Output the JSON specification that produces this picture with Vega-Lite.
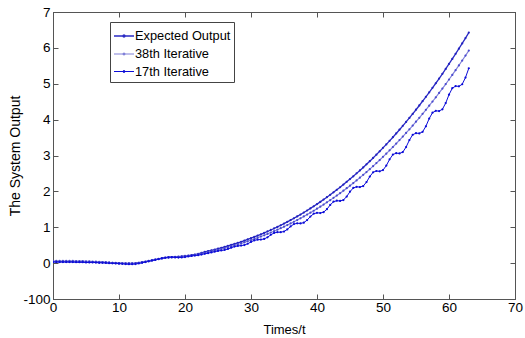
{
  "$schema": "https://vega.github.io/schema/vega-lite/v6.json",
  "width": 462,
  "height": 287,
  "autosize": "none",
  "padding": {"left": 53, "top": 12, "right": 10, "bottom": 39},
  "background": "#ffffff",
  "config": {
    "font": "Liberation Sans",
    "view": {"stroke": "#555555", "strokeWidth": 1}
  },
  "data": {
    "values": [
      {"t":0,"Expected Output":0.04,"38th Iterative":0.06,"17th Iterative":0.03},
      {"t":0.5,"Expected Output":0.04,"38th Iterative":0.06,"17th Iterative":0.03},
      {"t":1,"Expected Output":0.04,"38th Iterative":0.06,"17th Iterative":0.03},
      {"t":1.5,"Expected Output":0.04,"38th Iterative":0.06,"17th Iterative":0.03},
      {"t":2,"Expected Output":0.04,"38th Iterative":0.06,"17th Iterative":0.03},
      {"t":2.5,"Expected Output":0.04,"38th Iterative":0.06,"17th Iterative":0.03},
      {"t":3,"Expected Output":0.04,"38th Iterative":0.06,"17th Iterative":0.03},
      {"t":3.5,"Expected Output":0.035,"38th Iterative":0.055,"17th Iterative":0.025},
      {"t":4,"Expected Output":0.035,"38th Iterative":0.055,"17th Iterative":0.025},
      {"t":4.5,"Expected Output":0.035,"38th Iterative":0.055,"17th Iterative":0.025},
      {"t":5,"Expected Output":0.03,"38th Iterative":0.05,"17th Iterative":0.02},
      {"t":5.5,"Expected Output":0.03,"38th Iterative":0.05,"17th Iterative":0.02},
      {"t":6,"Expected Output":0.03,"38th Iterative":0.045,"17th Iterative":0.02},
      {"t":6.5,"Expected Output":0.025,"38th Iterative":0.04,"17th Iterative":0.015},
      {"t":7,"Expected Output":0.02,"38th Iterative":0.035,"17th Iterative":0.01},
      {"t":7.5,"Expected Output":0.02,"38th Iterative":0.03,"17th Iterative":0.01},
      {"t":8,"Expected Output":0.015,"38th Iterative":0.025,"17th Iterative":0.005},
      {"t":8.5,"Expected Output":0.01,"38th Iterative":0.02,"17th Iterative":0},
      {"t":9,"Expected Output":0.005,"38th Iterative":0.01,"17th Iterative":-0.005},
      {"t":9.5,"Expected Output":0,"38th Iterative":0.005,"17th Iterative":-0.01},
      {"t":10,"Expected Output":0,"38th Iterative":0,"17th Iterative":-0.015},
      {"t":10.5,"Expected Output":-0.005,"38th Iterative":-0.005,"17th Iterative":-0.02},
      {"t":11,"Expected Output":-0.01,"38th Iterative":-0.01,"17th Iterative":-0.025},
      {"t":11.5,"Expected Output":-0.01,"38th Iterative":-0.01,"17th Iterative":-0.03},
      {"t":12,"Expected Output":-0.005,"38th Iterative":-0.01,"17th Iterative":-0.03},
      {"t":12.5,"Expected Output":0,"38th Iterative":-0.005,"17th Iterative":-0.025},
      {"t":13,"Expected Output":0.01,"38th Iterative":0.005,"17th Iterative":-0.01},
      {"t":13.5,"Expected Output":0.025,"38th Iterative":0.02,"17th Iterative":0.01},
      {"t":14,"Expected Output":0.04,"38th Iterative":0.035,"17th Iterative":0.03},
      {"t":14.5,"Expected Output":0.06,"38th Iterative":0.055,"17th Iterative":0.05},
      {"t":15,"Expected Output":0.08,"38th Iterative":0.075,"17th Iterative":0.07},
      {"t":15.5,"Expected Output":0.1,"38th Iterative":0.095,"17th Iterative":0.09},
      {"t":16,"Expected Output":0.12,"38th Iterative":0.115,"17th Iterative":0.11},
      {"t":16.5,"Expected Output":0.14,"38th Iterative":0.13,"17th Iterative":0.13},
      {"t":17,"Expected Output":0.155,"38th Iterative":0.145,"17th Iterative":0.15},
      {"t":17.5,"Expected Output":0.165,"38th Iterative":0.155,"17th Iterative":0.16},
      {"t":18,"Expected Output":0.17,"38th Iterative":0.16,"17th Iterative":0.165},
      {"t":18.5,"Expected Output":0.175,"38th Iterative":0.165,"17th Iterative":0.16},
      {"t":19,"Expected Output":0.18,"38th Iterative":0.17,"17th Iterative":0.155},
      {"t":19.5,"Expected Output":0.19,"38th Iterative":0.18,"17th Iterative":0.16},
      {"t":20,"Expected Output":0.2,"38th Iterative":0.19,"17th Iterative":0.17},
      {"t":20.5,"Expected Output":0.21,"38th Iterative":0.2,"17th Iterative":0.185},
      {"t":21,"Expected Output":0.225,"38th Iterative":0.21,"17th Iterative":0.2},
      {"t":21.5,"Expected Output":0.24,"38th Iterative":0.225,"17th Iterative":0.21},
      {"t":22,"Expected Output":0.26,"38th Iterative":0.24,"17th Iterative":0.22},
      {"t":22.5,"Expected Output":0.285,"38th Iterative":0.265,"17th Iterative":0.24},
      {"t":23,"Expected Output":0.313,"38th Iterative":0.288,"17th Iterative":0.261},
      {"t":23.5,"Expected Output":0.333,"38th Iterative":0.307,"17th Iterative":0.278},
      {"t":24,"Expected Output":0.355,"38th Iterative":0.328,"17th Iterative":0.298},
      {"t":24.5,"Expected Output":0.378,"38th Iterative":0.348,"17th Iterative":0.32},
      {"t":25,"Expected Output":0.402,"38th Iterative":0.37,"17th Iterative":0.339},
      {"t":25.5,"Expected Output":0.426,"38th Iterative":0.393,"17th Iterative":0.352},
      {"t":26,"Expected Output":0.452,"38th Iterative":0.416,"17th Iterative":0.367},
      {"t":26.5,"Expected Output":0.478,"38th Iterative":0.441,"17th Iterative":0.394},
      {"t":27,"Expected Output":0.506,"38th Iterative":0.466,"17th Iterative":0.429},
      {"t":27.5,"Expected Output":0.535,"38th Iterative":0.493,"17th Iterative":0.461},
      {"t":28,"Expected Output":0.564,"38th Iterative":0.52,"17th Iterative":0.479},
      {"t":28.5,"Expected Output":0.595,"38th Iterative":0.549,"17th Iterative":0.488},
      {"t":29,"Expected Output":0.627,"38th Iterative":0.578,"17th Iterative":0.504},
      {"t":29.5,"Expected Output":0.66,"38th Iterative":0.608,"17th Iterative":0.54},
      {"t":30,"Expected Output":0.694,"38th Iterative":0.64,"17th Iterative":0.591},
      {"t":30.5,"Expected Output":0.729,"38th Iterative":0.672,"17th Iterative":0.634},
      {"t":31,"Expected Output":0.766,"38th Iterative":0.706,"17th Iterative":0.653},
      {"t":31.5,"Expected Output":0.803,"38th Iterative":0.741,"17th Iterative":0.657},
      {"t":32,"Expected Output":0.842,"38th Iterative":0.776,"17th Iterative":0.674},
      {"t":32.5,"Expected Output":0.882,"38th Iterative":0.813,"17th Iterative":0.721},
      {"t":33,"Expected Output":0.924,"38th Iterative":0.852,"17th Iterative":0.788},
      {"t":33.5,"Expected Output":0.966,"38th Iterative":0.891,"17th Iterative":0.841},
      {"t":34,"Expected Output":1.01,"38th Iterative":0.931,"17th Iterative":0.862},
      {"t":34.5,"Expected Output":1.055,"38th Iterative":0.973,"17th Iterative":0.862},
      {"t":35,"Expected Output":1.102,"38th Iterative":1.016,"17th Iterative":0.881},
      {"t":35.5,"Expected Output":1.15,"38th Iterative":1.06,"17th Iterative":0.94},
      {"t":36,"Expected Output":1.199,"38th Iterative":1.106,"17th Iterative":1.023},
      {"t":36.5,"Expected Output":1.25,"38th Iterative":1.152,"17th Iterative":1.088},
      {"t":37,"Expected Output":1.302,"38th Iterative":1.2,"17th Iterative":1.11},
      {"t":37.5,"Expected Output":1.355,"38th Iterative":1.25,"17th Iterative":1.108},
      {"t":38,"Expected Output":1.41,"38th Iterative":1.3,"17th Iterative":1.128},
      {"t":38.5,"Expected Output":1.467,"38th Iterative":1.352,"17th Iterative":1.199},
      {"t":39,"Expected Output":1.525,"38th Iterative":1.406,"17th Iterative":1.299},
      {"t":39.5,"Expected Output":1.584,"38th Iterative":1.46,"17th Iterative":1.377},
      {"t":40,"Expected Output":1.645,"38th Iterative":1.517,"17th Iterative":1.401},
      {"t":40.5,"Expected Output":1.707,"38th Iterative":1.574,"17th Iterative":1.397},
      {"t":41,"Expected Output":1.771,"38th Iterative":1.633,"17th Iterative":1.42},
      {"t":41.5,"Expected Output":1.837,"38th Iterative":1.694,"17th Iterative":1.503},
      {"t":42,"Expected Output":1.904,"38th Iterative":1.756,"17th Iterative":1.621},
      {"t":42.5,"Expected Output":1.973,"38th Iterative":1.819,"17th Iterative":1.712},
      {"t":43,"Expected Output":2.043,"38th Iterative":1.884,"17th Iterative":1.739},
      {"t":43.5,"Expected Output":2.115,"38th Iterative":1.95,"17th Iterative":1.733},
      {"t":44,"Expected Output":2.189,"38th Iterative":2.018,"17th Iterative":1.759},
      {"t":44.5,"Expected Output":2.265,"38th Iterative":2.088,"17th Iterative":1.856},
      {"t":45,"Expected Output":2.342,"38th Iterative":2.159,"17th Iterative":1.992},
      {"t":45.5,"Expected Output":2.421,"38th Iterative":2.232,"17th Iterative":2.096},
      {"t":46,"Expected Output":2.502,"38th Iterative":2.306,"17th Iterative":2.127},
      {"t":46.5,"Expected Output":2.584,"38th Iterative":2.382,"17th Iterative":2.119},
      {"t":47,"Expected Output":2.668,"38th Iterative":2.46,"17th Iterative":2.149},
      {"t":47.5,"Expected Output":2.754,"38th Iterative":2.539,"17th Iterative":2.259},
      {"t":48,"Expected Output":2.842,"38th Iterative":2.62,"17th Iterative":2.414},
      {"t":48.5,"Expected Output":2.932,"38th Iterative":2.703,"17th Iterative":2.532},
      {"t":49,"Expected Output":3.024,"38th Iterative":2.788,"17th Iterative":2.568},
      {"t":49.5,"Expected Output":3.117,"38th Iterative":2.874,"17th Iterative":2.559},
      {"t":50,"Expected Output":3.213,"38th Iterative":2.962,"17th Iterative":2.593},
      {"t":50.5,"Expected Output":3.31,"38th Iterative":3.052,"17th Iterative":2.718},
      {"t":51,"Expected Output":3.409,"38th Iterative":3.143,"17th Iterative":2.893},
      {"t":51.5,"Expected Output":3.51,"38th Iterative":3.237,"17th Iterative":3.025},
      {"t":52,"Expected Output":3.614,"38th Iterative":3.332,"17th Iterative":3.065},
      {"t":52.5,"Expected Output":3.719,"38th Iterative":3.429,"17th Iterative":3.057},
      {"t":53,"Expected Output":3.826,"38th Iterative":3.528,"17th Iterative":3.096},
      {"t":53.5,"Expected Output":3.936,"38th Iterative":3.629,"17th Iterative":3.236},
      {"t":54,"Expected Output":4.047,"38th Iterative":3.731,"17th Iterative":3.43},
      {"t":54.5,"Expected Output":4.16,"38th Iterative":3.836,"17th Iterative":3.578},
      {"t":55,"Expected Output":4.276,"38th Iterative":3.942,"17th Iterative":3.623},
      {"t":55.5,"Expected Output":4.394,"38th Iterative":4.051,"17th Iterative":3.615},
      {"t":56,"Expected Output":4.513,"38th Iterative":4.161,"17th Iterative":3.66},
      {"t":56.5,"Expected Output":4.635,"38th Iterative":4.274,"17th Iterative":3.815},
      {"t":57,"Expected Output":4.76,"38th Iterative":4.388,"17th Iterative":4.03},
      {"t":57.5,"Expected Output":4.886,"38th Iterative":4.505,"17th Iterative":4.193},
      {"t":58,"Expected Output":5.014,"38th Iterative":4.623,"17th Iterative":4.245},
      {"t":58.5,"Expected Output":5.145,"38th Iterative":4.744,"17th Iterative":4.238},
      {"t":59,"Expected Output":5.278,"38th Iterative":4.866,"17th Iterative":4.289},
      {"t":59.5,"Expected Output":5.414,"38th Iterative":4.991,"17th Iterative":4.46},
      {"t":60,"Expected Output":5.551,"38th Iterative":5.118,"17th Iterative":4.696},
      {"t":60.5,"Expected Output":5.691,"38th Iterative":5.247,"17th Iterative":4.876},
      {"t":61,"Expected Output":5.833,"38th Iterative":5.378,"17th Iterative":4.934},
      {"t":61.5,"Expected Output":5.978,"38th Iterative":5.512,"17th Iterative":4.928},
      {"t":62,"Expected Output":6.125,"38th Iterative":5.647,"17th Iterative":4.986},
      {"t":62.5,"Expected Output":6.274,"38th Iterative":5.785,"17th Iterative":5.174},
      {"t":63,"Expected Output":6.426,"38th Iterative":5.925,"17th Iterative":5.432}
    ]
  },
  "transform": [
    {"fold": ["Expected Output", "38th Iterative", "17th Iterative"], "as": ["series", "y"]}
  ],
  "layer": [
    {
      "mark": {"type": "line", "clip": true},
      "encoding": {
        "x": {
          "field": "t", "type": "quantitative",
          "scale": {"domain": [0, 70], "nice": false, "zero": false},
          "axis": {
            "orient": "bottom", "values": [0, 10, 20, 30, 40, 50, 60, 70],
            "title": "Times/t", "titleFontSize": 13, "titleFontWeight": "normal", "titleColor": "#000000", "titlePadding": 10,
            "labelFontSize": 13.5, "labelColor": "#000000", "labelPadding": 6, "labelFlush": false, "labelOverlap": false, "labelBound": false,
            "tickSize": -5, "tickColor": "#555555", "domainColor": "#555555", "grid": false
          }
        },
        "y": {
          "field": "y", "type": "quantitative",
          "scale": {"domain": [-1, 7], "nice": false, "zero": false},
          "axis": {
            "orient": "left", "values": [-1, 0, 1, 2, 3, 4, 5, 6, 7],
            "labelExpr": "datum.value == -1 ? '-100' : datum.label",
            "title": "The System Output", "titleFontSize": 14, "titleFontWeight": "normal", "titleColor": "#000000", "titlePadding": 0,
            "labelFontSize": 13.5, "labelColor": "#000000", "labelPadding": 8, "labelFlush": false, "labelOverlap": false, "labelBound": false,
            "tickSize": -5, "tickColor": "#555555", "domainColor": "#555555", "grid": false
          }
        },
        "color": {
          "field": "series", "type": "nominal",
          "scale": {"domain": ["Expected Output", "38th Iterative", "17th Iterative"], "range": ["#2a2ac4", "#8080d8", "#0c0cd8"]},
          "legend": {
            "orient": "none", "legendX": 57, "legendY": 10, "title": null,
            "symbolType": "M-1,0H1M0.1,0A0.1,0.1,0,1,1,-0.1,0A0.1,0.1,0,1,1,0.1,0",
            "symbolSize": 400, "symbolStrokeWidth": 1, "symbolFillColor": "transparent",
            "labelFontSize": 12.8, "labelColor": "#000000", "labelOffset": 0, "labelLimit": 200,
            "padding": 3, "rowPadding": 0, "strokeColor": "#444444", "fillColor": "#ffffff"
          }
        },
        "strokeWidth": {
          "field": "series", "type": "nominal",
          "scale": {"domain": ["Expected Output", "38th Iterative", "17th Iterative"], "range": [1.3, 1, 2]},
          "legend": null
        }
      }
    },
    {
      "mark": {"type": "point", "filled": true, "size": 5, "opacity": 1, "clip": true},
      "encoding": {
        "x": {
          "field": "t", "type": "quantitative",
          "axis": {"orient": "top", "values": [0, 10, 20, 30, 40, 50, 60, 70], "labels": false, "title": null, "tickSize": -5, "tickColor": "#555555", "domainColor": "#555555", "grid": false}
        },
        "y": {
          "field": "y", "type": "quantitative",
          "axis": {"orient": "right", "values": [-1, 0, 1, 2, 3, 4, 5, 6, 7], "labels": false, "title": null, "tickSize": -5, "tickColor": "#555555", "domainColor": "#555555", "grid": false}
        },
        "fill": {
          "field": "series", "type": "nominal",
          "scale": {"domain": ["Expected Output", "38th Iterative", "17th Iterative"], "range": ["#2222c0", "#4a4ad0", "#0c0cd8"]},
          "legend": null
        }
      }
    }
  ],
  "resolve": {"axis": {"x": "independent", "y": "independent"}}
}
